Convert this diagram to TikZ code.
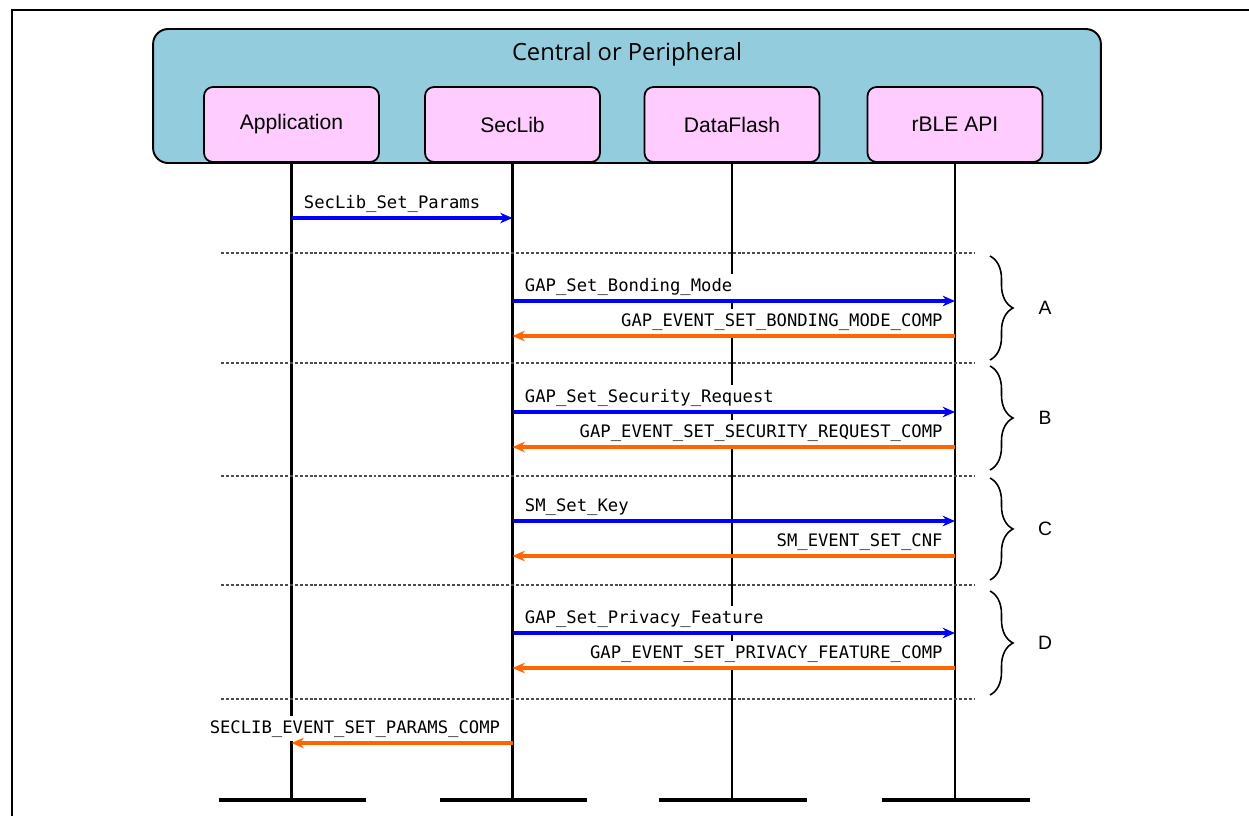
\documentclass[tikz,border=0pt]{standalone}
\usepackage{fontspec}
\setmainfont{Liberation Sans}
\setmonofont{DejaVu Sans Mono}
\newfontfamily\titlefont{Open Sans}
\usetikzlibrary{arrows.meta,decorations.pathreplacing}
\definecolor{devblue}{RGB}{147,205,221}
\definecolor{partpink}{RGB}{255,204,255}
\definecolor{rspor}{RGB}{255,102,0}

\begin{document}
\begin{tikzpicture}[x=0.02cm,y=-0.02cm,
    dev/.style={draw,line width=1.1pt,rounded corners=0.3cm,fill=devblue,minimum width=18.96cm,minimum height=2.68cm},
    part/.style={draw,line width=1pt,rounded corners=0.18cm,fill=partpink,minimum width=3.5cm,minimum height=1.5cm,font=\fontsize{12}{14}\selectfont},
    life/.style={line width=1.2pt},
    foot/.style={line width=1.8pt},
    sep/.style={line width=0.6pt,black!70,dash pattern=on 1.7pt off 1.1pt},
    msg/.style={fill=white,inner sep=1.5pt,minimum height=0.5cm,text height=1.6ex,text depth=0.5ex,font=\fontsize{9.8}{12}\ttfamily},
    req/.style={line width=1.9pt,blue,-{Stealth[length=7pt,width=6pt]}},
    rsp/.style={line width=1.9pt,rspor,-{Stealth[length=7pt,width=6pt]}},
    grp/.style={line width=0.9pt,decorate,decoration={brace,amplitude=0.46cm}}]
\useasboundingbox (0,0) rectangle (1249,816);
\draw[line width=1.1pt] (12,816) -- (12,10) -- (1249,10);
\node[dev] (dev) at (627,96) {};
\node[font={\titlefont\fontsize{13.5}{16}\selectfont}] (title) at (627,54) {Central or Peripheral};
\node[part] (app) at (291.5,124.5) {Application};
\node[part] (sec) at (512.5,124.5) {SecLib};
\node[part] (flash) at (732,124.5) {DataFlash};
\node[part] (ble) at (955,124.5) {rBLE API};
\coordinate (base) at (0,800);
\foreach \p in {app,sec,flash,ble}{
  \draw[life] (\p.south) -- (\p |- base);
  \draw[foot] ([xshift=-1.46cm]\p |- base) -- ([xshift=1.5cm]\p |- base);
}
\foreach \y in {253,363,476,585,699}
  \draw[sep] (221,\y) -- (975,\y);
\node[msg,anchor=south west] (m0) at ([xshift=0.19cm]app |- 0,216) {SecLib\_Set\_Params};
\draw[req] (app |- 0,218) -- (sec |- 0,218);
\foreach \y/\req/\rsp [count=\i] in {301/GAP\_Set\_Bonding\_Mode/GAP\_EVENT\_SET\_BONDING\_MODE\_COMP,
    412/GAP\_Set\_Security\_Request/GAP\_EVENT\_SET\_SECURITY\_REQUEST\_COMP,
    521/SM\_Set\_Key/SM\_EVENT\_SET\_CNF,
    633/GAP\_Set\_Privacy\_Feature/GAP\_EVENT\_SET\_PRIVACY\_FEATURE\_COMP}{
  \node[msg,anchor=south west] (q\i) at ([xshift=0.19cm]sec |- 0,\y-2) {\req};
  \node[msg,anchor=south east] (r\i) at ([xshift=-0.19cm]ble |- 0,\y+33) {\rsp};
  \draw[req] (sec |- 0,\y) -- (ble |- 0,\y);
  \draw[rsp] (ble |- 0,\y+35) -- (sec |- 0,\y+35);
}
\node[msg,anchor=south east] (done) at ([xshift=-0.19cm]sec |- 0,741) {SECLIB\_EVENT\_SET\_PARAMS\_COMP};
\draw[rsp] (sec |- 0,743) -- (app |- 0,743);
\foreach \t/\b/\g in {256/360/A,366/470/B,478/580/C,591/695/D}
  \draw[grp] (990,\t) -- (990,\b) node[midway,xshift=1.1cm,font=\fontsize{11}{13}\selectfont] (grp\g) {\g};
\end{tikzpicture}
\end{document}
